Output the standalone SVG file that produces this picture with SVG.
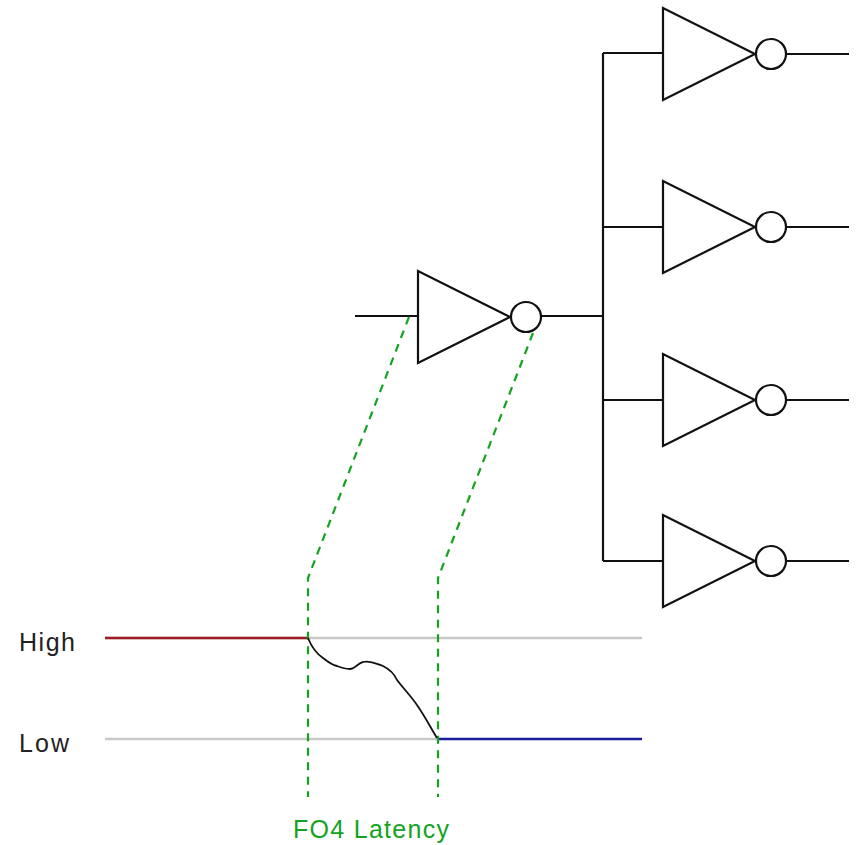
<svg xmlns="http://www.w3.org/2000/svg" width="856" height="845" viewBox="0 0 856 845">
<defs>
<style>
.w{fill:none;stroke:#111;stroke-width:2.2}
.g{fill:#fff;stroke:#111;stroke-width:2.2}
.d{fill:none;stroke:#13a31f;stroke-width:2.2;stroke-dasharray:8 6.5}
.t{font-family:"Liberation Sans",Arial,sans-serif;font-size:25px;fill:#222}
</style>
<g id="inv"><path class="g" d="M0 0L0 92L92 46Z"/><circle class="g" cx="108" cy="46" r="15"/></g>
</defs>
<rect width="856" height="845" fill="#fff"/>
<g id="connectors">
<path class="w" d="M355 316H418M541 316H603M603 53V561M603 53H663M603 227H663M603 400H663M603 561H663M786 54H849M786 227H849M786 400H849M787 561H849"/>
<path fill="none" stroke="#c8c8c8" stroke-width="2.5" d="M105 638H642M105 739H437"/>
<path fill="none" stroke="#a01c24" stroke-width="2.5" d="M105 638H308"/>
<path fill="none" stroke="#1c1ca0" stroke-width="2.5" d="M437 739H642"/>
<path class="d" d="M409 317L308 578V797"/>
<path class="d" d="M533 333L438 578V797"/>
<path fill="none" stroke="#111" stroke-width="1.8" d="M308 638C312 648 317 654 323 658C328 662 332 665 337 666C342 668 346 669 350 669C355 669 358 663 363 662C369 660 377 664 383 666C389 669 394 673 397 680C403 688 411 696 417 705C424 715 431 728 437 738"/>
</g>
<g id="driver"><use href="#inv" x="418" y="271"/></g>
<g id="load1"><use href="#inv" x="663" y="8"/></g>
<g id="load2"><use href="#inv" x="663" y="181"/></g>
<g id="load3"><use href="#inv" x="663" y="354"/></g>
<g id="load4"><use href="#inv" x="663" y="515"/></g>
<g id="labels">
<text class="t" x="19" y="651" textLength="56">High</text>
<text class="t" x="19" y="752" textLength="50">Low</text>
<text class="t" x="293" y="838" textLength="156" style="fill:#13a31f">FO4 Latency</text>
</g>
</svg>
